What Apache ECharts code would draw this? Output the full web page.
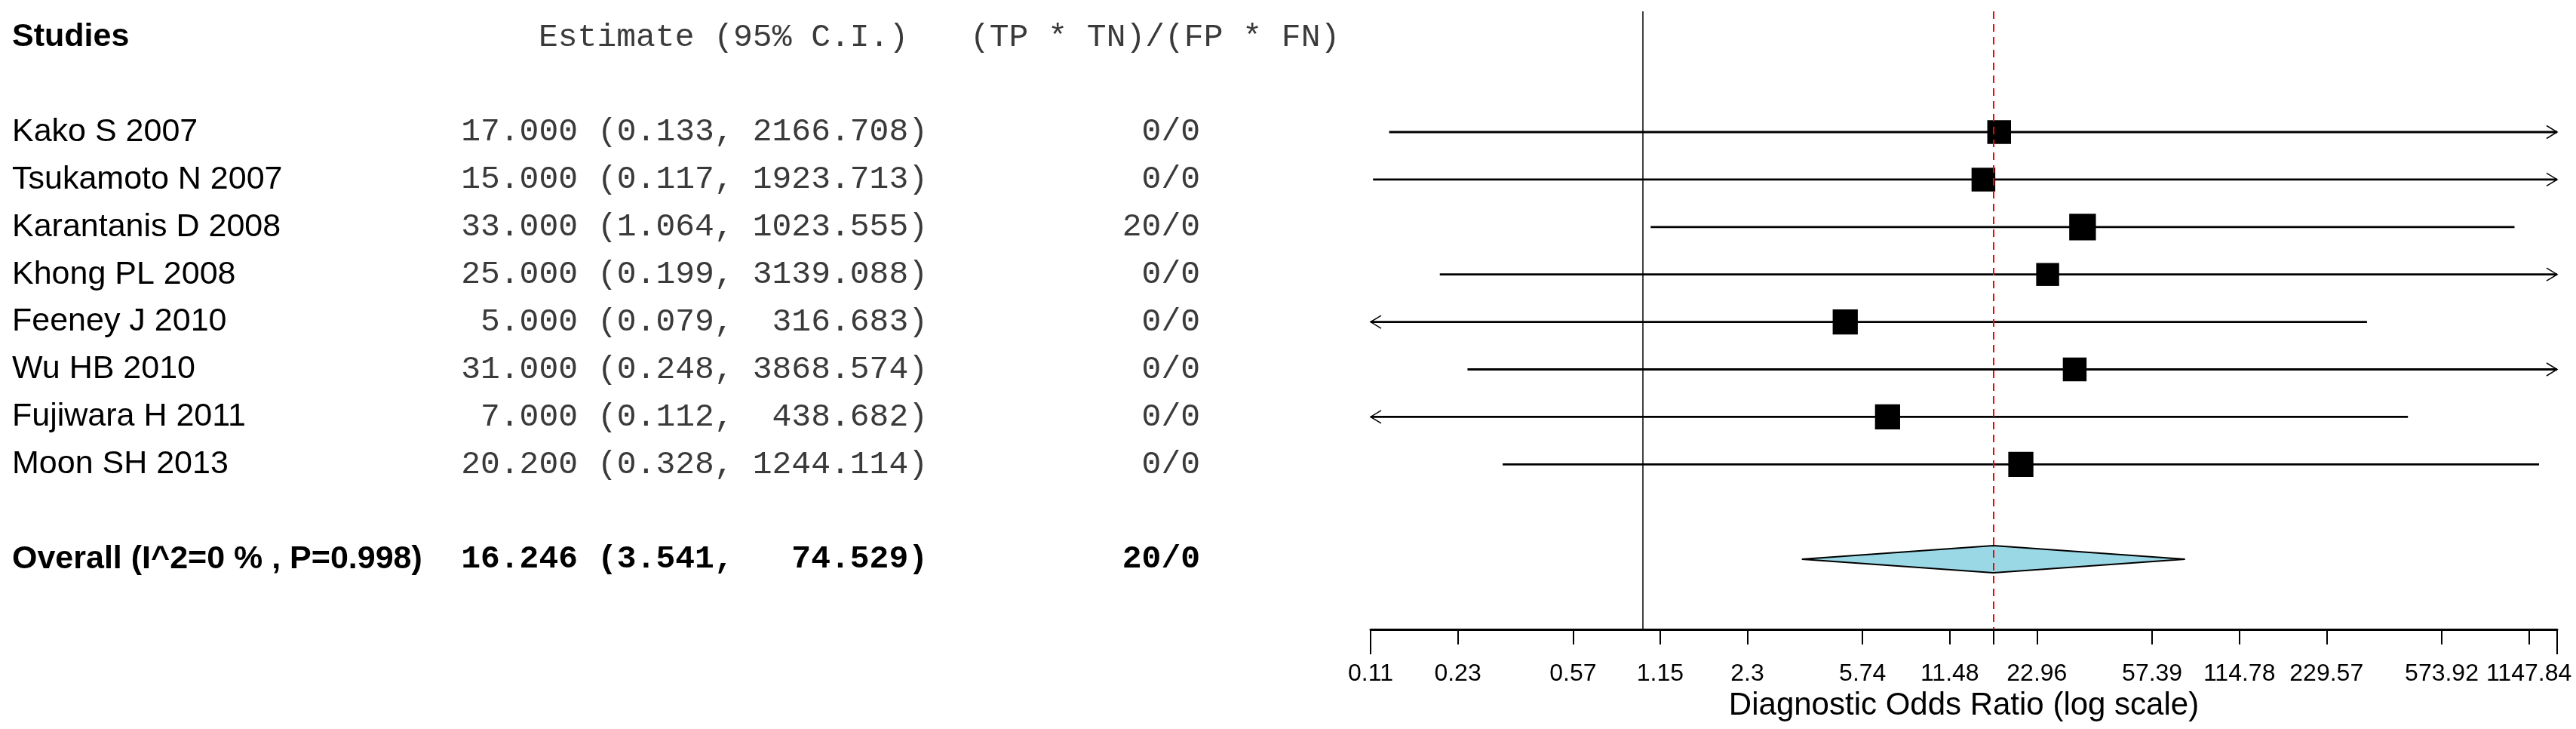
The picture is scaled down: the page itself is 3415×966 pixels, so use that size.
<!DOCTYPE html>
<html>
<head>
<meta charset="utf-8">
<title>Forest plot - Diagnostic Odds Ratio</title>
<script src="https://cdn.jsdelivr.net/npm/echarts@6/dist/echarts.min.js"></script>
<style>
  html, body { margin: 0; padding: 0; background: #fff; }
  #chart { width: 3415px; height: 966px; }
</style>
</head>
<body>
<div id="chart"></div>
<script>
// ---- data ----
const studies = [
  "Kako S 2007", "Tsukamoto N 2007", "Karantanis D 2008", "Khong PL 2008",
  "Feeney J 2010", "Wu HB 2010", "Fujiwara H 2011", "Moon SH 2013"
];
const estimates = [17.0, 15.0, 33.0, 25.0, 5.0, 31.0, 7.0, 20.2];
const lowerCI = [0.133, 0.117, 1.064, 0.199, 0.079, 0.248, 0.112, 0.328];
const upperCI = [2166.708, 1923.713, 1023.555, 3139.088, 316.683, 3868.574, 438.682, 1244.114];
const cellRatios = ["0/0", "0/0", "20/0", "0/0", "0/0", "0/0", "0/0", "0/0"];
// relative weights (%), drawn as box size
const weights = [12.1, 12.1, 13.6, 11.7, 12.8, 12.1, 12.8, 12.8];

const pooledLabel = "Overall (I^2=0 % , P=0.998)";
const pooledEstimate = 16.246;
const pooledLower = 3.541;
const pooledUpper = 74.529;
const pooledRatio = "20/0";

const tickValues = [0.114784, 0.229568, 0.57392, 1.14784, 2.29568, 5.7392, 11.4784,
  22.9568, 57.392, 114.784, 229.568, 573.92, 1147.84];
const tickLabels = ["0.11", "0.23", "0.57", "1.15", "2.3", "5.74", "11.48",
  "22.96", "57.39", "114.78", "229.57", "573.92", "1147.84"];
const axisMin = 0.114784;
const axisMax = 1436.6;

// ---- layout ----
const SANS = "'Liberation Sans', Arial, sans-serif";
const MONO = "'Liberation Mono', 'Courier New', monospace";
const gridTop = 15, gridHeight = 819;
const rowMin = -1.544, rowMax = 11.477;
const headerRow = -1, pooledRow = 10;
const studyRows = studies.map((s, i) => i + 1);

const fontSans = "43px " + SANS;
const fontSansBold = "bold 43px " + SANS;
const fontMono = "43px " + MONO;
const fontMonoBold = "bold 43px " + MONO;
const monoColor = "#3a3a3a";

// text columns (px in the table grid)
const colStudy = 16, colEstRight = 766, colLoLeft = 792, colHiRight = 1230, colRatioRight = 1591;
const colEstHeader = 714, colRatioHeader = 1286;

function textSeries(cells, font, align, color) {
  return {
    type: "custom",
    xAxisIndex: 2,
    yAxisIndex: 1,
    silent: true,
    z: 5,
    data: cells.map(c => [c[0], c[1]]),
    renderItem: function (params, api) {
      const p = api.coord([api.value(0), api.value(1)]);
      return {
        type: "text",
        x: p[0],
        y: p[1],
        style: {
          text: cells[params.dataIndex][2],
          font: font,
          align: align,
          verticalAlign: "middle",
          fill: color
        }
      };
    }
  };
}

const studyCells = studies.map((s, i) => [colStudy, studyRows[i], s]);
const estCells = estimates.map((v, i) => [colEstRight, studyRows[i], v.toFixed(3)]);
const loCells = lowerCI.map((v, i) => [colLoLeft, studyRows[i], "(" + v.toFixed(3) + ","]);
const hiCells = upperCI.map((v, i) => [colHiRight, studyRows[i], v.toFixed(3) + ")"]);
const ratioCells = cellRatios.map((v, i) => [colRatioRight, studyRows[i], v]);

function arrowHead(tip, dir) {
  return {
    type: "polyline",
    shape: { points: [[tip[0] - dir * 14, tip[1] - 8.5], [tip[0], tip[1]], [tip[0] - dir * 14, tip[1] + 8.5]] },
    style: { stroke: "#000", lineWidth: 1.5, fill: null }
  };
}

const chart = echarts.init(document.getElementById("chart"));

const option = {
  animation: false,
  backgroundColor: "#fff",
  grid: [
    { left: 1817, right: 25, top: gridTop, height: gridHeight, outerBoundsMode: "none", containLabel: false },
    { left: 0, right: 0, top: gridTop, height: gridHeight, outerBoundsMode: "none", containLabel: false }
  ],
  xAxis: [
    {
      type: "log",
      logBase: 10,
      gridIndex: 0,
      position: "bottom",
      min: axisMin,
      max: axisMax,
      splitLine: { show: false },
      axisLine: { show: true, onZero: false, lineStyle: { color: "#000", width: 3 } },
      axisTick: {
        show: true,
        length: 20,
        customValues: tickValues.concat([pooledEstimate]),
        lineStyle: { color: "#000", width: 2 }
      },
      axisLabel: {
        show: true,
        customValues: tickValues,
        margin: 43,
        fontSize: 32,
        fontFamily: SANS,
        color: "#000",
        formatter: function (v) {
          let best = 0;
          tickValues.forEach((t, i) => {
            if (Math.abs(Math.log(t) - Math.log(v)) < Math.abs(Math.log(tickValues[best]) - Math.log(v))) best = i;
          });
          return tickLabels[best];
        }
      },
      name: "Diagnostic Odds Ratio (log scale)",
      nameLocation: "middle",
      nameGap: 80,
      nameTextStyle: { fontSize: 42, fontFamily: SANS, color: "#000" }
    },
    {
      // long end ticks
      type: "log",
      logBase: 10,
      gridIndex: 0,
      position: "bottom",
      min: axisMin,
      max: axisMax,
      splitLine: { show: false },
      axisLine: { show: false, onZero: false },
      axisTick: {
        show: true,
        length: 33,
        customValues: [axisMin, axisMax],
        lineStyle: { color: "#000", width: 2 }
      },
      axisLabel: { show: false }
    },
    {
      type: "value",
      gridIndex: 1,
      min: 0,
      max: 3415,
      show: false
    }
  ],
  yAxis: [
    { type: "value", gridIndex: 0, inverse: true, min: rowMin, max: rowMax, show: false },
    { type: "value", gridIndex: 1, inverse: true, min: rowMin, max: rowMax, show: false }
  ],
  series: [
    {
      // reference lines
      type: "scatter",
      xAxisIndex: 0,
      yAxisIndex: 0,
      data: [],
      z: 1,
      markLine: {
        silent: true,
        symbol: ["none", "none"],
        label: { show: false },
        data: [
          { xAxis: 1, lineStyle: { color: "#000", width: 1.5, type: "solid" } },
          { xAxis: pooledEstimate, lineStyle: { color: "#ff0000", width: 2, type: [10, 7] } }
        ]
      }
    },
    {
      // confidence intervals
      type: "custom",
      xAxisIndex: 0,
      yAxisIndex: 0,
      z: 2,
      silent: true,
      encode: { x: [0, 1], y: 2 },
      data: studies.map((s, i) => [lowerCI[i], upperCI[i], studyRows[i]]),
      renderItem: function (params, api) {
        const lo = api.value(0), hi = api.value(1), row = api.value(2);
        const a = api.coord([Math.max(lo, axisMin), row]);
        const b = api.coord([Math.min(hi, axisMax), row]);
        const children = [{
          type: "line",
          shape: { x1: a[0], y1: a[1], x2: b[0], y2: b[1] },
          style: { stroke: "#000", lineWidth: 2.8 }
        }];
        if (lo < axisMin) children.push(arrowHead(a, -1));
        if (hi > axisMax) children.push(arrowHead(b, 1));
        return { type: "group", children: children };
      }
    },
    {
      // study estimates
      type: "scatter",
      xAxisIndex: 0,
      yAxisIndex: 0,
      z: 3,
      silent: true,
      symbol: "rect",
      symbolSize: function (val, params) { return weights[params.dataIndex] * 2.6; },
      itemStyle: { color: "#000", opacity: 1 },
      data: estimates.map((v, i) => [v, studyRows[i]])
    },
    {
      // pooled diamond
      type: "custom",
      xAxisIndex: 0,
      yAxisIndex: 0,
      z: 3,
      silent: true,
      data: [[pooledLower, pooledEstimate, pooledUpper, pooledRow]],
      renderItem: function (params, api) {
        const row = api.value(3);
        const l = api.coord([api.value(0), row]);
        const c = api.coord([api.value(1), row]);
        const r = api.coord([api.value(2), row]);
        return {
          type: "polygon",
          shape: { points: [l, [c[0], c[1] - 18], r, [c[0], c[1] + 18]] },
          style: { fill: "#9ad8e6", stroke: "#000", lineWidth: 2 }
        };
      }
    },
    // table
    textSeries([[colStudy, headerRow, "Studies"]], fontSansBold, "left", "#000"),
    textSeries([[colEstHeader, headerRow, "Estimate (95% C.I.)"]], fontMono, "left", monoColor),
    textSeries([[colRatioHeader, headerRow, "(TP * TN)/(FP * FN)"]], fontMono, "left", monoColor),
    textSeries(studyCells, fontSans, "left", "#000"),
    textSeries(estCells, fontMono, "right", monoColor),
    textSeries(loCells, fontMono, "left", monoColor),
    textSeries(hiCells, fontMono, "right", monoColor),
    textSeries(ratioCells, fontMono, "right", monoColor),
    textSeries([[colStudy, pooledRow, pooledLabel]], fontSansBold, "left", "#000"),
    textSeries([[colEstRight, pooledRow, pooledEstimate.toFixed(3)]], fontMonoBold, "right", "#000"),
    textSeries([[colLoLeft, pooledRow, "(" + pooledLower.toFixed(3) + ","]], fontMonoBold, "left", "#000"),
    textSeries([[colHiRight, pooledRow, pooledUpper.toFixed(3) + ")"]], fontMonoBold, "right", "#000"),
    textSeries([[colRatioRight, pooledRow, pooledRatio]], fontMonoBold, "right", "#000")
  ]
};

chart.setOption(option);
window.onresize = chart.resize;
</script>
</body>
</html>
